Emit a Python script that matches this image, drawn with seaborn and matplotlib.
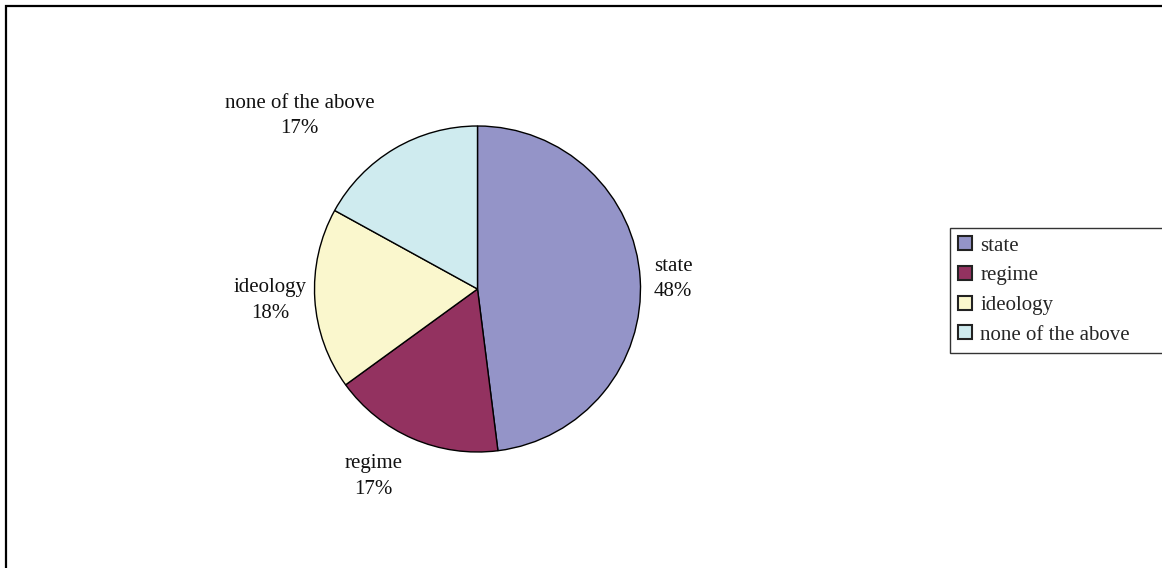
import matplotlib.pyplot as plt
import seaborn as sns
from matplotlib.patches import Rectangle

categories = ["state", "regime", "ideology", "none of the above"]
shares = [48, 17, 18, 17]
colors = ["#9494C8", "#933260", "#FAF7CD", "#CFEBEF"]
# label centres, in pie radius units
label_pos = [(1.20, 0.06), (-0.64, -1.15), (-1.27, -0.07), (-1.09, 1.06)]

sns.set_theme(style="white")
plt.rcParams['font.family'] = ['Liberation Serif', 'DejaVu Serif']

fig = plt.figure(figsize=(11.62, 5.68), dpi=100)
fig.patch.set_facecolor("white")

# outer chart frame (runs off the right and bottom edges)
fig.patches.append(Rectangle((6 / 1162, -0.1), 1.2, (568 - 6) / 568 + 0.1,
                             transform=fig.transFigure, fill=False,
                             edgecolor="black", linewidth=1.6))

r = 163
cx, cy = 477.5, 289
ax = fig.add_axes([(cx - r) / 1162, (568 - cy - r) / 568, 2 * r / 1162, 2 * r / 568])
wedges, _ = ax.pie(shares, colors=colors, startangle=90, counterclock=False,
                   wedgeprops=dict(edgecolor="black", linewidth=1.0))
ax.set_xlim(-1, 1)
ax.set_ylim(-1, 1)
ax.set_aspect("equal")
ax.axis("off")

for name, val, (x, y) in zip(categories, shares, label_pos):
    ax.text(x, y, f"{name}\n{val}%", ha="center", va="center",
            fontsize=15, linespacing=1.45, clip_on=False, color="#111111")

# legend box runs past the right edge, as in the original
leg_top = 1 - 228 / 568
leg_h = (350 - 228) / 568
leg = fig.legend(wedges, categories, loc="upper left",
                 bbox_to_anchor=(950 / 1162, leg_top - leg_h, 0.3, leg_h),
                 mode="expand", fontsize=15, frameon=True, fancybox=False,
                 handlelength=0.65, handleheight=0.65, handletextpad=0.4,
                 labelspacing=0.5, borderpad=0.4, borderaxespad=0)
leg.get_frame().set_edgecolor("black")
leg.get_frame().set_linewidth(1.0)
for h in leg.legend_handles:
    h.set_edgecolor("#222222")
    h.set_linewidth(1.5)

fig.savefig("out.png", dpi=100, facecolor="white")
